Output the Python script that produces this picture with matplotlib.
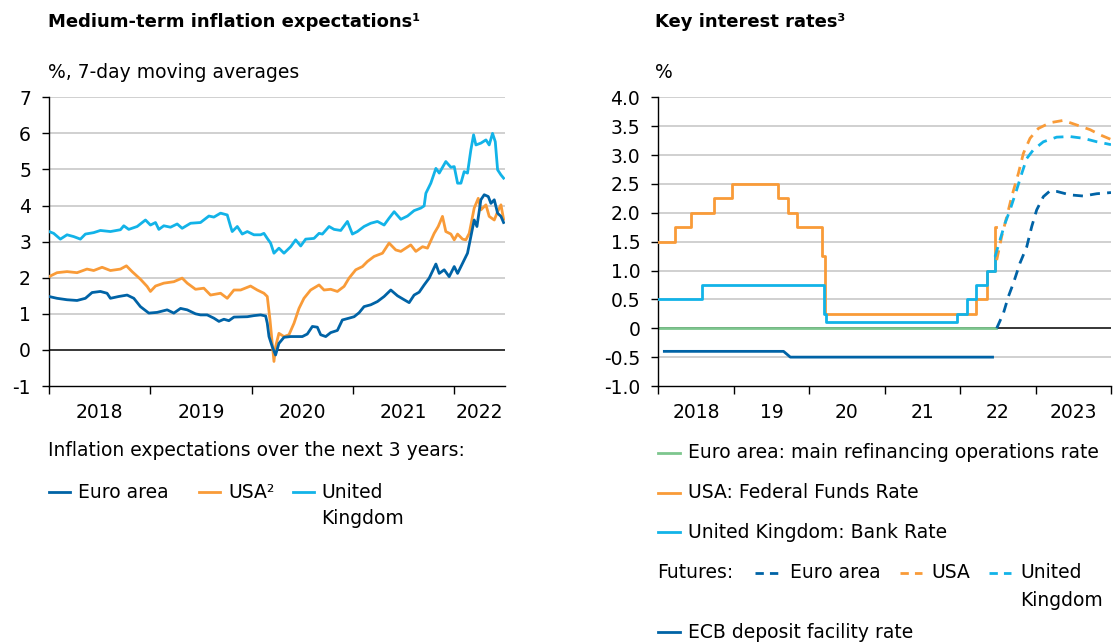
import matplotlib
matplotlib.use("Agg")
import matplotlib.pyplot as plt
from matplotlib.lines import Line2D

plt.rcParams['font.family'] = ['DejaVu Sans']

DARK = '#0063A6'
ORANGE = '#F99B38'
CYAN = '#12B3E8'
GREEN = '#7DC68E'
GRID = '#C3C3C3'
FS = 13.5

# ---- left panel: inflation expectations (decimal years) ----
uk_x = [2018.0, 2018.046, 2018.112, 2018.178, 2018.244, 2018.31, 2018.359, 2018.441, 2018.507,
        2018.606, 2018.705, 2018.738, 2018.787, 2018.87, 2018.952, 2019.001, 2019.051, 2019.084,
        2019.133, 2019.199, 2019.265, 2019.314, 2019.397, 2019.495, 2019.578, 2019.627, 2019.693,
        2019.759, 2019.792, 2019.808, 2019.858, 2019.907, 2019.957, 2020.022, 2020.088, 2020.121,
        2020.154, 2020.187, 2020.22, 2020.269, 2020.319, 2020.385, 2020.434, 2020.484, 2020.533,
        2020.615, 2020.665, 2020.698, 2020.764, 2020.813, 2020.879, 2020.945, 2020.994, 2021.043,
        2021.109, 2021.175, 2021.241, 2021.307, 2021.356, 2021.406, 2021.472, 2021.538, 2021.603,
        2021.669, 2021.702, 2021.719, 2021.768, 2021.818, 2021.851, 2021.916, 2021.966, 2021.999,
        2022.032, 2022.065, 2022.097, 2022.13, 2022.163, 2022.19, 2022.213, 2022.262, 2022.312,
        2022.344, 2022.377, 2022.404, 2022.427, 2022.46, 2022.486]
uk_y = [3.28, 3.23, 3.07, 3.19, 3.14, 3.07, 3.21, 3.25, 3.31,
        3.28, 3.33, 3.44, 3.34, 3.42, 3.60, 3.46, 3.53, 3.34,
        3.44, 3.40, 3.49, 3.37, 3.51, 3.53, 3.71, 3.68, 3.79,
        3.74, 3.42, 3.28, 3.42, 3.21, 3.28, 3.19, 3.19, 3.23,
        3.09, 2.96, 2.68, 2.82, 2.68, 2.86, 3.05, 2.88, 3.07,
        3.09, 3.23, 3.21, 3.42, 3.34, 3.31, 3.56, 3.21, 3.28,
        3.42, 3.51, 3.56, 3.46, 3.65, 3.83, 3.62, 3.71, 3.86,
        3.93, 3.99, 4.34, 4.62, 5.03, 4.90, 5.22, 5.06, 5.08,
        4.62, 4.62, 4.94, 4.90, 5.54, 5.96, 5.68, 5.73, 5.82,
        5.68, 6.00, 5.77, 4.99, 4.85, 4.76]

us_x = [2018.0, 2018.079, 2018.178, 2018.277, 2018.375, 2018.441, 2018.524, 2018.606, 2018.705,
        2018.764, 2018.82, 2018.902, 2018.968, 2019.001, 2019.051, 2019.133, 2019.232, 2019.314,
        2019.364, 2019.446, 2019.528, 2019.594, 2019.693, 2019.759, 2019.825, 2019.891, 2019.989,
        2020.055, 2020.121, 2020.154, 2020.181, 2020.203, 2020.22, 2020.236, 2020.269, 2020.319,
        2020.368, 2020.418, 2020.467, 2020.516, 2020.582, 2020.665, 2020.714, 2020.78, 2020.846,
        2020.912, 2020.961, 2021.027, 2021.093, 2021.142, 2021.208, 2021.291, 2021.356, 2021.422,
        2021.472, 2021.521, 2021.57, 2021.62, 2021.686, 2021.735, 2021.801, 2021.841, 2021.883,
        2021.916, 2021.966, 2021.999, 2022.032, 2022.081, 2022.114, 2022.147, 2022.196, 2022.236,
        2022.262, 2022.312, 2022.344, 2022.394, 2022.427, 2022.46, 2022.486]
us_y = [2.03, 2.14, 2.17, 2.14, 2.24, 2.20, 2.29, 2.20, 2.24,
        2.33, 2.17, 1.96, 1.76, 1.62, 1.77, 1.85, 1.89, 1.99,
        1.85, 1.68, 1.71, 1.52, 1.57, 1.43, 1.66, 1.66, 1.77,
        1.66, 1.57, 1.48, 0.83, 0.18, -0.32, 0.09, 0.46, 0.37,
        0.42, 0.74, 1.15, 1.43, 1.66, 1.80, 1.66, 1.68, 1.62,
        1.76, 1.99, 2.22, 2.31, 2.45, 2.59, 2.68, 2.96, 2.77,
        2.73, 2.82, 2.91, 2.73, 2.86, 2.82, 3.23, 3.42, 3.70,
        3.28, 3.21, 3.05, 3.21, 3.07, 3.05, 3.23, 3.93, 4.20,
        3.88, 4.02, 3.70, 3.60, 3.83, 4.02, 3.62]

ea_x = [2018.0, 2018.079, 2018.178, 2018.277, 2018.359, 2018.425, 2018.507, 2018.573, 2018.606,
        2018.688, 2018.771, 2018.837, 2018.902, 2018.985, 2019.067, 2019.166, 2019.232, 2019.298,
        2019.364, 2019.446, 2019.495, 2019.561, 2019.627, 2019.677, 2019.726, 2019.775, 2019.825,
        2019.957, 2020.022, 2020.088, 2020.138, 2020.154, 2020.171, 2020.203, 2020.236, 2020.269,
        2020.319, 2020.385, 2020.451, 2020.5, 2020.549, 2020.599, 2020.648, 2020.681, 2020.731,
        2020.78, 2020.846, 2020.895, 2020.961, 2021.011, 2021.06, 2021.109, 2021.175, 2021.241,
        2021.307, 2021.373, 2021.439, 2021.505, 2021.554, 2021.603, 2021.653, 2021.702, 2021.752,
        2021.818, 2021.851, 2021.9, 2021.949, 2021.999, 2022.032, 2022.081, 2022.13, 2022.163,
        2022.196, 2022.223, 2022.262, 2022.295, 2022.335, 2022.361, 2022.394, 2022.427, 2022.46,
        2022.486]
ea_y = [1.48, 1.43, 1.39, 1.37, 1.43, 1.59, 1.62, 1.57, 1.43,
        1.48, 1.52, 1.43, 1.20, 1.02, 1.04, 1.11, 1.02, 1.15,
        1.11, 1.00, 0.97, 0.97, 0.88, 0.79, 0.85, 0.81, 0.91,
        0.92, 0.95, 0.97, 0.94, 0.74, 0.37, 0.09, -0.14, 0.18,
        0.35, 0.37, 0.37, 0.37, 0.44, 0.65, 0.63, 0.42, 0.37,
        0.48, 0.54, 0.83, 0.88, 0.92, 1.03, 1.20, 1.25, 1.34,
        1.48, 1.66, 1.50, 1.39, 1.31, 1.52, 1.60, 1.80, 1.99,
        2.38, 2.12, 2.22, 2.03, 2.31, 2.12, 2.40, 2.68, 3.14,
        3.60, 3.42, 4.16, 4.30, 4.25, 4.06, 4.16, 3.79, 3.70,
        3.53]

left_year_labels = ['2018', '2019', '2020', '2021', '2022']

# ---- right panel: key interest rates ----
fed_x = [2018.0, 2018.22, 2018.44, 2018.74, 2018.98, 2019.59, 2019.72, 2019.835,
         2020.17, 2020.21, 2022.21, 2022.35, 2022.46, 2022.475]
fed_y = [1.5, 1.75, 2.0, 2.25, 2.5, 2.25, 2.0, 1.75, 1.25, 0.25, 0.5, 1.0, 1.75, 1.75]

boe_x = [2018.0, 2018.58, 2020.19, 2020.22, 2021.96, 2022.09, 2022.21, 2022.35, 2022.46, 2022.475]
boe_y = [0.5, 0.75, 0.25, 0.1, 0.25, 0.5, 0.75, 1.0, 1.25, 1.25]

mro_x = [2018.0, 2022.475]
mro_y = [0.0, 0.0]

dfr_x = [2018.08, 2019.66, 2019.75, 2022.43]
dfr_y = [-0.4, -0.4, -0.5, -0.5]

fut_ea_x = [2022.485, 2022.574, 2022.64, 2022.706, 2022.794, 2022.883, 2022.949, 2023.015,
            2023.104, 2023.192, 2023.281, 2023.457, 2023.634, 2023.811, 2024.0]
fut_ea_y = [0.0, 0.26, 0.55, 0.78, 1.13, 1.41, 1.76, 2.05, 2.28, 2.38, 2.37, 2.31, 2.29, 2.33, 2.35]

fut_us_x = [2022.485, 2022.551, 2022.618, 2022.684, 2022.772, 2022.839, 2022.927, 2023.037,
            2023.192, 2023.369, 2023.546, 2023.722, 2023.855, 2024.0]
fut_us_y = [1.18, 1.59, 1.93, 2.28, 2.68, 3.03, 3.29, 3.46, 3.56, 3.60, 3.52, 3.44, 3.35, 3.27]

fut_uk_x = [2022.463, 2022.529, 2022.596, 2022.662, 2022.75, 2022.817, 2022.883, 2022.971,
            2023.104, 2023.281, 2023.457, 2023.634, 2023.811, 2024.0]
fut_uk_y = [1.24, 1.53, 1.82, 2.05, 2.40, 2.68, 2.94, 3.09, 3.23, 3.31, 3.32, 3.29, 3.23, 3.18]

right_year_labels = ['2018', '19', '20', '21', '22', '2023']

W, H = 1114, 642
fig = plt.figure(figsize=(W / 100, H / 100), dpi=100)

def fx(px):
    return px / W

def fy(py):
    return 1 - py / H

ax1 = fig.add_axes([fx(49), fy(386), fx(505 - 49), (386 - 97.3) / H])
ax2 = fig.add_axes([fx(658.3), fy(386), fx(1111 - 658.3), (386 - 97.3) / H])

def style(ax, yticks, ylabels, xmaj, xmin, xlabels):
    for s in ['top', 'right']:
        ax.spines[s].set_visible(False)
    ax.spines['left'].set_linewidth(1.0)
    ax.spines['bottom'].set_linewidth(1.0)
    ax.set_yticks(yticks)
    ax.set_yticklabels(ylabels)
    ax.set_xticks(xmaj)
    ax.set_xticklabels([''] * len(xmaj))
    ax.set_xticks(xmin, minor=True)
    ax.set_xticklabels(xlabels, minor=True)
    ax.tick_params(axis='y', length=5, width=1.0, pad=8, labelsize=FS)
    ax.tick_params(axis='x', which='major', length=6, width=1.0, direction='out')
    ax.tick_params(axis='x', which='minor', length=0, pad=12, labelsize=FS)
    for y in yticks:
        if y == 0:
            ax.axhline(0, color='black', lw=1.1, zorder=1.5)
        elif y != yticks[0]:
            ax.axhline(y, color=GRID, lw=1.1, zorder=0)

# left
ax1.plot(uk_x, uk_y, color=CYAN, lw=2.0, zorder=3)
ax1.plot(us_x, us_y, color=ORANGE, lw=2.0, zorder=3)
ax1.plot(ea_x, ea_y, color=DARK, lw=2.0, zorder=3)
ax1.set_xlim(2018.0, 2022.5)
ax1.set_ylim(-1, 7)
style(ax1, list(range(-1, 8)), [str(v) for v in range(-1, 8)],
      [2018, 2019, 2020, 2021, 2022], [2018.5, 2019.5, 2020.5, 2021.5, 2022.25],
      left_year_labels)

# right
ax2.plot(mro_x, mro_y, color=GREEN, lw=2.0, zorder=2)
ax2.plot(fed_x, fed_y, color=ORANGE, lw=2.0, drawstyle='steps-post', zorder=3)
ax2.plot(boe_x, boe_y, color=CYAN, lw=2.0, drawstyle='steps-post', zorder=3)
ax2.plot(dfr_x, dfr_y, color=DARK, lw=2.0, zorder=3)
for xs, ys, c in [(fut_ea_x, fut_ea_y, DARK), (fut_us_x, fut_us_y, ORANGE), (fut_uk_x, fut_uk_y, CYAN)]:
    ax2.plot(xs, ys, color=c, lw=2.0, dashes=(3.6, 2.6), zorder=3)
ax2.set_xlim(2018.0, 2024.0)
ax2.set_ylim(-1, 4)
r_ticks = [-1.0, -0.5, 0, 0.5, 1.0, 1.5, 2.0, 2.5, 3.0, 3.5, 4.0]
r_labels = ['-1.0', '-0.5', '0', '0.5', '1.0', '1.5', '2.0', '2.5', '3.0', '3.5', '4.0']
style(ax2, r_ticks, r_labels, list(range(2018, 2025)),
      [2018.5, 2019.5, 2020.5, 2021.5, 2022.5, 2023.5], right_year_labels)

# titles
fig.text(fx(48), fy(22), 'Medium-term inflation expectations¹', fontsize=13,
         fontweight='bold', va='center', ha='left')
fig.text(fx(48), fy(73), '%, 7-day moving averages', fontsize=FS, va='center', ha='left')
fig.text(fx(655), fy(22), 'Key interest rates³', fontsize=13,
         fontweight='bold', va='center', ha='left')
fig.text(fx(655), fy(73), '%', fontsize=FS, va='center', ha='left')

# legends
def leg_line(x0, x1, y, color, dashed=False):
    ln = Line2D([fx(x0), fx(x1)], [fy(y), fy(y)], color=color, lw=2.0,
                transform=fig.transFigure)
    if dashed:
        ln.set_dashes((3.0, 2.2))
    fig.add_artist(ln)

def leg_text(x, y, s):
    fig.text(fx(x), fy(y), s, fontsize=FS, va='center', ha='left')

leg_text(48, 451, 'Inflation expectations over the next 3 years:')
leg_line(49, 70, 492, DARK)
leg_text(78, 492, 'Euro area')
leg_line(199, 220, 492, ORANGE)
leg_text(228, 492, 'USA²')
leg_line(293, 314, 492, CYAN)
leg_text(321, 492, 'United')
leg_text(321, 518, 'Kingdom')

leg_line(658, 680, 453, GREEN)
leg_text(688, 453, 'Euro area: main refinancing operations rate')
leg_line(658, 680, 493, ORANGE)
leg_text(688, 493, 'USA: Federal Funds Rate')
leg_line(658, 680, 532, CYAN)
leg_text(688, 532, 'United Kingdom: Bank Rate')
leg_text(657, 573, 'Futures:')
leg_line(755, 781, 573, DARK, dashed=True)
leg_text(790, 573, 'Euro area')
leg_line(900, 922, 573, ORANGE, dashed=True)
leg_text(931, 573, 'USA')
leg_line(989, 1011, 573, CYAN, dashed=True)
leg_text(1020, 573, 'United')
leg_text(1020, 600, 'Kingdom')
leg_line(658, 680, 632, DARK)
leg_text(688, 632, 'ECB deposit facility rate')

fig.savefig('out.png', dpi=100)
